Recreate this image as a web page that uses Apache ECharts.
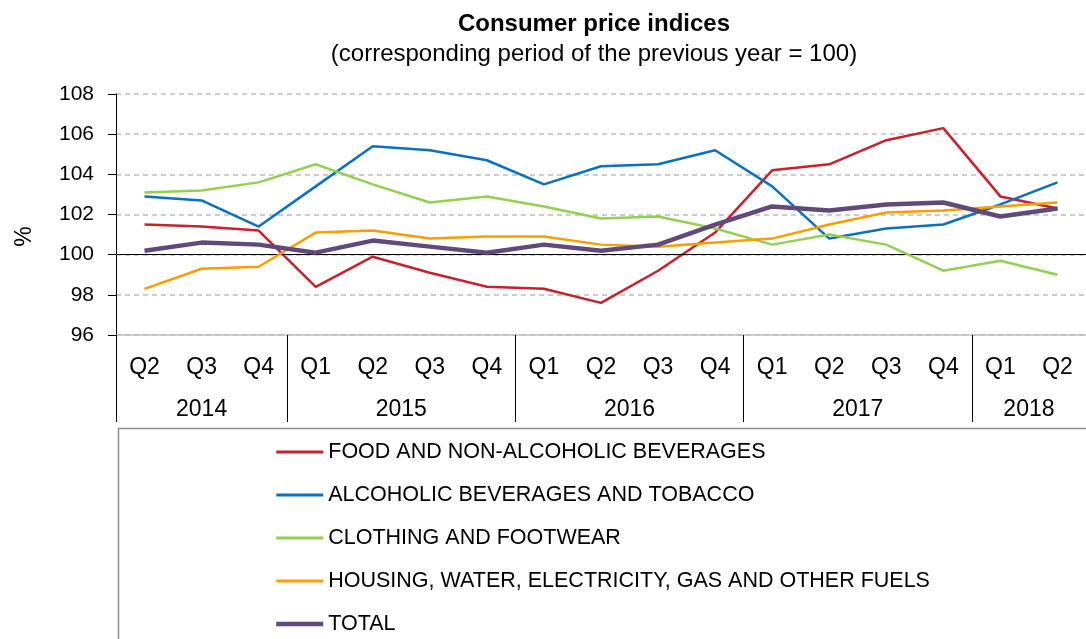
<!DOCTYPE html>
<html>
<head>
<meta charset="utf-8">
<title>Consumer price indices</title>
<script src="https://cdn.jsdelivr.net/npm/echarts@6/dist/echarts.min.js"></script>
<style>
  html, body { margin: 0; padding: 0; background: #fff; }
  #chart { width: 1086px; height: 639px; }
</style>
</head>
<body>
<div id="chart"></div>
<script>
// quarters on the first axis row
var quarters = ['Q2', 'Q3', 'Q4', 'Q1', 'Q2', 'Q3', 'Q4', 'Q1', 'Q2', 'Q3', 'Q4', 'Q1', 'Q2', 'Q3', 'Q4', 'Q1', 'Q2'];
// years on the second axis row, and how many quarters each one spans
var years = ['2014', '2015', '2016', '2017', '2018'];
var yearSpans = [3, 4, 4, 4, 2];

var seriesNames = [
    'FOOD AND NON-ALCOHOLIC BEVERAGES',
    'ALCOHOLIC BEVERAGES AND TOBACCO',
    'CLOTHING AND FOOTWEAR',
    'HOUSING, WATER, ELECTRICITY, GAS AND OTHER FUELS',
    'TOTAL'
];

var food = [101.5, 101.4, 101.2, 98.4, 99.9, 99.1, 98.4, 98.3, 97.6, 99.2, 101.1, 104.2, 104.5, 105.7, 106.3, 102.9, 102.3];
var alcohol = [102.9, 102.7, 101.4, 103.4, 105.4, 105.2, 104.7, 103.5, 104.4, 104.5, 105.2, 103.4, 100.8, 101.3, 101.5, 102.5, 103.6];
var clothing = [103.1, 103.2, 103.6, 104.5, 103.5, 102.6, 102.9, 102.4, 101.8, 101.9, 101.3, 100.5, 101.0, 100.5, 99.2, 99.7, 99.0];
var housing = [98.3, 99.3, 99.4, 101.1, 101.2, 100.8, 100.9, 100.9, 100.5, 100.4, 100.6, 100.8, 101.5, 102.1, 102.2, 102.4, 102.6];
var total = [100.2, 100.6, 100.5, 100.1, 100.7, 100.4, 100.1, 100.5, 100.2, 100.5, 101.5, 102.4, 102.2, 102.5, 102.6, 101.9, 102.3];

var colors = ['#c8202c', '#0a70c0', '#92d050', '#ff9c00', '#604a7b'];

// year label positions and separators, counted in quarters
var yearBounds = [0];
var yearCenters = [];
for (var i = 0; i < yearSpans.length; i++) {
    var start = yearBounds[yearBounds.length - 1];
    yearCenters.push(start + yearSpans[i] / 2);
    yearBounds.push(start + yearSpans[i]);
}

var fontFamily = "'Liberation Sans', Arial, sans-serif";

var chart = echarts.init(document.getElementById('chart'));

var dataList = [food, alcohol, clothing, housing, total];
var series = [];
var legendData = [];
for (var k = 0; k < dataList.length; k++) {
    var lw = k == 4 ? 4.5 : 2.5;
    var s = {
        name: seriesNames[k],
        type: 'line',
        xAxisIndex: 0,
        yAxisIndex: 0,
        data: dataList[k],
        symbol: 'none',
        silent: true,
        lineStyle: { color: colors[k], width: lw },
        itemStyle: { color: colors[k] },
        z: 3 + k
    };
    if (k == 0) {
        // the 100 line
        s.markLine = {
            silent: true,
            symbol: 'none',
            label: { show: false },
            lineStyle: { color: '#000', width: 1, type: 'solid' },
            data: [{ yAxis: 100 }]
        };
    }
    series.push(s);
    legendData.push({ name: seriesNames[k], lineStyle: { width: k == 4 ? 4.5 : 3 } });
}

var option = {
    animation: false,
    textStyle: { fontFamily: fontFamily },
    title: {
        text: 'Consumer price indices',
        subtext: '(corresponding period of the previous year = 100)',
        left: 589,
        top: 6,
        textAlign: 'center',
        itemGap: 4,
        textStyle: { fontFamily: fontFamily, fontSize: 24, fontWeight: 'bold', color: '#000', lineHeight: 26 },
        subtextStyle: { fontFamily: fontFamily, fontSize: 24, color: '#000', lineHeight: 26 }
    },
    legend: {
        orient: 'vertical',
        left: 274,
        top: 441,
        height: 200,
        padding: 0,
        itemWidth: 47,
        itemHeight: 14,
        itemGap: 21,
        selectedMode: false,
        // hide the marker dot, keep the line
        itemStyle: { opacity: 0 },
        data: legendData,
        textStyle: { fontFamily: fontFamily, fontSize: 21.5, color: '#000', lineHeight: 22 }
    },
    grid: {
        left: 116,
        top: 94,
        width: 983,
        height: 241
    },
    xAxis: [
        {
            type: 'category',
            data: quarters,
            boundaryGap: true,
            axisLine: { show: true, lineStyle: { color: '#c0c0c0', width: 1.5 } },
            axisTick: { show: false },
            axisLabel: { fontFamily: fontFamily, fontSize: 23, color: '#000', margin: 21, interval: 0 },
            splitLine: { show: false }
        },
        {
            type: 'value',
            min: 0,
            max: quarters.length,
            position: 'bottom',
            axisLine: { show: false },
            axisTick: {
                show: true,
                customValues: yearBounds,
                length: 87,
                lineStyle: { color: '#000', width: 1 }
            },
            axisLabel: {
                customValues: yearCenters,
                fontFamily: fontFamily,
                fontSize: 23,
                color: '#000',
                margin: 63,
                formatter: function (v) {
                    var idx = yearCenters.indexOf(v);
                    return idx >= 0 ? years[idx] : '';
                }
            },
            splitLine: { show: false }
        }
    ],
    yAxis: {
        type: 'value',
        min: 96,
        max: 108,
        interval: 2,
        name: '%',
        nameLocation: 'middle',
        nameRotate: 90,
        nameGap: 80,
        nameTextStyle: { fontFamily: fontFamily, fontSize: 23, color: '#000', padding: [0, 44, 0, 0] },
        axisLine: { show: true, lineStyle: { color: '#000', width: 1 } },
        axisTick: { show: true, length: 8, lineStyle: { color: '#000' } },
        axisLabel: { fontFamily: fontFamily, fontSize: 21, color: '#000', margin: 22 },
        splitLine: { show: true, lineStyle: { color: '#bdbdbd', type: [5, 4], width: 1.5 } }
    },
    graphic: [
        {
            type: 'rect',
            silent: true,
            shape: { x: 118.5, y: 428.5, width: 1000, height: 300 },
            style: { fill: null, stroke: '#8c8c8c', lineWidth: 1.5 }
        }
    ],
    series: series
};

chart.setOption(option);
</script>
</body>
</html>
